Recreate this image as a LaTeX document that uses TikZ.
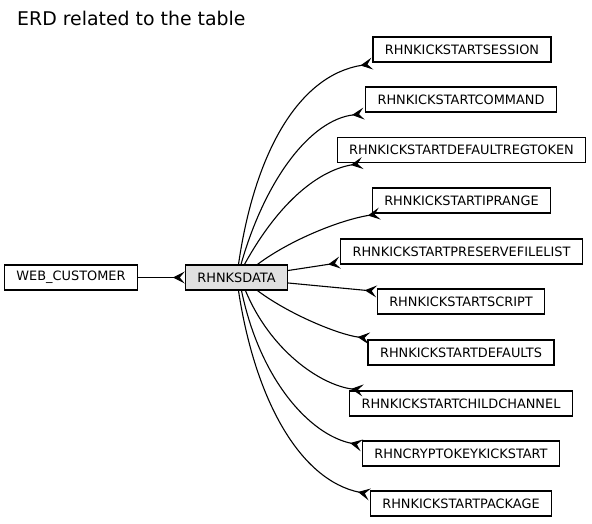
\documentclass[tikz,border=0pt]{standalone}
\usepackage{fontspec}
\setmainfont{DejaVu Sans}
\usetikzlibrary{arrows.meta}
\begin{document}
\begin{tikzpicture}[x=1pt,y=-1pt,
  tbl/.style={draw=black, line width=1.2pt, fill=white, minimum height=25pt, inner xsep=12pt, inner ysep=0pt, font=\fontsize{12.9}{14}\selectfont},
  crow/.style={line width=1.1pt, -{Stealth[reversed, length=12pt, width=12pt, inset=5pt]}}]
\useasboundingbox (0,0) rectangle (592,524);
\node[anchor=base west, font=\fontsize{18.9}{22}\selectfont, inner sep=0pt] (title) at (17,26) {ERD related to the table};
\node[tbl] (web) at (71,277.5) {WEB\_CUSTOMER};
\node[tbl, fill=black!12] (ks) at (236.5,277.5) {RHNKSDATA};
\node[tbl] (t1) at (462,49.5) {RHNKICKSTARTSESSION};
\node[tbl] (t2) at (461,99.5) {RHNKICKSTARTCOMMAND};
\node[tbl] (t3) at (461.5,150) {RHNKICKSTARTDEFAULTREGTOKEN};
\node[tbl] (t4) at (461.5,200.5) {RHNKICKSTARTIPRANGE};
\node[tbl] (t5) at (461.5,251.5) {RHNKICKSTARTPRESERVEFILELIST};
\node[tbl] (t6) at (461,301.5) {RHNKICKSTARTSCRIPT};
\node[tbl] (t7) at (461,352.5) {RHNKICKSTARTDEFAULTS};
\node[tbl] (t8) at (461,403.5) {RHNKICKSTARTCHILDCHANNEL};
\node[tbl] (t9) at (461,453.5) {RHNCRYPTOKEYKICKSTART};
\node[tbl] (t10) at (461,503.5) {RHNKICKSTARTPACKAGE};
\draw[crow] (web) -- (ks);
\draw[crow] ([xshift=2pt]ks.north) .. controls (255,150) and (300,75) .. ([yshift=-1pt]t1.south west);
\draw[crow] ([xshift=4.5pt]ks.north) .. controls (265,180) and (310,120) .. ([xshift=-1pt,yshift=-1pt]t2.south west);
\draw[crow] ([xshift=8pt]ks.north) .. controls (280,200) and (320,170) .. ([xshift=26pt]t3.south west);
\draw[crow] ([xshift=21pt]ks.north) .. controls (290,240) and (340,220) .. ([xshift=8pt]t4.south west);
\draw[crow] ([yshift=7pt]ks.east) -- ([yshift=2pt]t5.south west);
\draw[crow] ([yshift=-5.5pt]ks.east) -- ([yshift=-3pt]t6.north west);
\draw[crow] ([xshift=21pt]ks.south) .. controls (290,315) and (340,335) .. ([xshift=2pt,yshift=1pt]t7.north west);
\draw[crow] ([xshift=9pt]ks.south) .. controls (270,350) and (320,385) .. ([xshift=14pt]t8.north west);
\draw[crow] ([xshift=5pt]ks.south) .. controls (260,380) and (310,435) .. ([yshift=-5pt]t9.north west);
\draw[crow] ([xshift=2pt]ks.south) .. controls (255,400) and (300,480) .. ([yshift=-4pt]t10.north west);
\end{tikzpicture}
\end{document}
